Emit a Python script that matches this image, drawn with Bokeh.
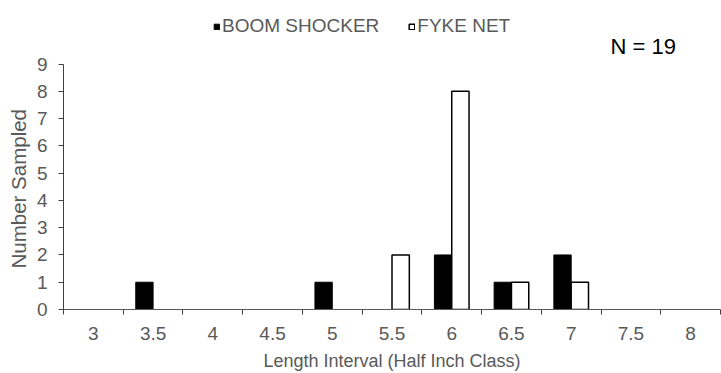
from bokeh.plotting import figure
from bokeh.models import (Range1d, FixedTicker, Legend, LegendItem, Label,
                          ColumnDataSource, Title)
from bokeh.embed import file_html
from bokeh.resources import INLINE

# ---- data ----
length_classes = ["3", "3.5", "4", "4.5", "5", "5.5", "6", "6.5", "7", "7.5", "8"]
boom_shocker = [0, 1, 0, 0, 1, 0, 2, 1, 2, 0, 0]
fyke_net = [0, 0, 0, 0, 0, 2, 8, 1, 1, 0, 0]
y_ticks = [0, 1, 2, 3, 4, 5, 6, 7, 8, 9]
series_names = ["BOOM SHOCKER", "FYKE NET"]

FONT = "Liberation Sans"
GREY = "#595959"
bar_w = 0.29
n_cat = len(length_classes)
pos = list(range(n_cat))

boom_src = ColumnDataSource(dict(
    x=[i - bar_w / 2 for i, v in zip(pos, boom_shocker) if v > 0],
    top=[v for v in boom_shocker if v > 0]))
fyke_src = ColumnDataSource(dict(
    x=[i + bar_w / 2 for i, v in zip(pos, fyke_net) if v > 0],
    top=[v for v in fyke_net if v > 0]))

# frame spans the full height; the value axis itself stops at 9
H, BOTTOM = 373, 62
AXIS_PX = 247  # pixel height of the 0..9 span
y_top = y_ticks[-1] * (H - BOTTOM) / AXIS_PX

p = figure(width=721, height=H,
           x_range=Range1d(-0.5, n_cat - 0.5), y_range=Range1d(0, y_top),
           output_backend="svg", toolbar_location=None,
           min_border_left=63, min_border_right=1,
           min_border_top=0, min_border_bottom=BOTTOM)

r_boom = p.vbar(x="x", top="top", width=bar_w, bottom=0, source=boom_src,
                fill_color="black", line_color="black", line_width=1)
r_fyke = p.vbar(x="x", top="top", width=bar_w, bottom=0, source=fyke_src,
                fill_color="white", line_color="black", line_width=1.5)

p.xgrid.visible = False
p.ygrid.visible = False
p.outline_line_color = None
p.background_fill_color = "white"
p.border_fill_color = "white"

# x axis: labels at category centres, tick marks at category boundaries
xa = p.xaxis[0]
xa.ticker = FixedTicker(ticks=pos, minor_ticks=[i - 0.5 for i in range(n_cat + 1)])
xa.major_label_overrides = {i: lab for i, lab in zip(pos, length_classes)}
xa.major_tick_out = 0
xa.major_tick_in = 0
xa.minor_tick_out = 5
xa.minor_tick_in = 0
xa.minor_tick_line_color = "#404040"
xa.axis_line_color = "#595959"
xa.major_label_text_font = FONT
xa.major_label_text_font_size = "19px"
xa.major_label_text_color = GREY
xa.major_label_standoff = 12
xa.axis_label = "Length Interval (Half Inch Class)"
xa.axis_label_text_font = FONT
xa.axis_label_text_font_size = "18px"
xa.axis_label_text_font_style = "normal"
xa.axis_label_text_color = GREY
xa.axis_label_standoff = 8

ya = p.yaxis[0]
ya.bounds = (0, y_ticks[-1])
ya.ticker = FixedTicker(ticks=y_ticks)
ya.major_tick_out = 5
ya.major_tick_in = 0
ya.minor_tick_line_color = None
ya.major_tick_line_color = "#404040"
ya.axis_line_color = "#404040"
ya.major_label_text_font = FONT
ya.major_label_text_font_size = "19px"
ya.major_label_text_color = GREY
ya.major_label_standoff = 11

# y title placed along the 0..9 span of the axis (not the full frame)
p.add_layout(Title(text="Number Sampled", align="left", offset=41, standoff=7,
                   text_font=FONT, text_font_size="20.5px",
                   text_font_style="normal", text_color=GREY), "left")

legend = Legend(items=[LegendItem(label=series_names[0], renderers=[r_boom]),
                       LegendItem(label=series_names[1], renderers=[r_fyke])],
                orientation="horizontal", location=(150, 272),
                glyph_width=7, glyph_height=7, label_standoff=2, spacing=29,
                padding=0, margin=0, border_line_alpha=0,
                background_fill_alpha=0,
                label_text_font=FONT, label_text_font_size="19px",
                label_text_color=GREY)
p.add_layout(legend, "center")

total = sum(boom_shocker) + sum(fyke_net)
p.add_layout(Label(x=547, y=263, x_units="screen", y_units="screen",
                   text=f"N = {total}", text_font=FONT, text_font_size="22px",
                   text_color="black", text_baseline="middle"))

open("out.html", "w").write(file_html(p, INLINE))
